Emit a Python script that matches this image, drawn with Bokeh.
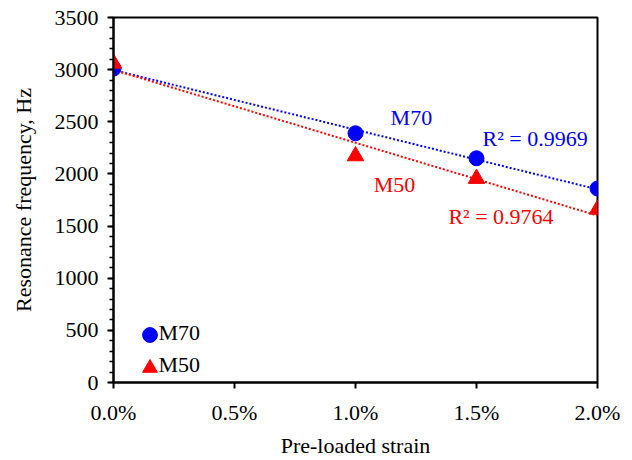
import numpy as np
from bokeh.plotting import figure
from bokeh.models import (Range1d, FixedTicker, NumeralTickFormatter, Legend, LegendItem, Label)
from bokeh.embed import file_html
from bokeh.resources import INLINE

# ---- data ----
strain = [0.0, 0.010, 0.015, 0.020]
m70 = [3010, 2390, 2150, 1860]
m50 = [3060, 2172, 1955, 1660]
series_names = ["M70", "M50"]
r2_labels = ["R² = 0.9969", "R² = 0.9764"]
x_ticks = [0.0, 0.005, 0.010, 0.015, 0.020]
y_ticks = [0, 500, 1000, 1500, 2000, 2500, 3000, 3500]

FONT = "Liberation Serif"
FS = "22px"
BLUE = "#0000FF"
RED = "#FF0000"

p = figure(width=632, height=460, output_backend="svg", toolbar_location=None,
           x_range=Range1d(0, 0.02), y_range=Range1d(0, 3500),
           min_border_left=113, min_border_right=35, min_border_top=17, min_border_bottom=72)
p.grid.visible = False
p.outline_line_color = "black"
p.outline_line_width = 2
p.background_fill_color = "white"
p.border_fill_color = "white"

# axes
p.xaxis.ticker = FixedTicker(ticks=x_ticks)
p.xaxis.formatter = NumeralTickFormatter(format="0.0%")
p.yaxis.ticker = FixedTicker(ticks=y_ticks, minor_ticks=list(range(0, 3501, 100)))
for ax in (p.xaxis[0], p.yaxis[0]):
    ax.axis_line_color = "black"
    ax.axis_line_width = 2
    ax.major_tick_line_color = "black"
    ax.major_tick_line_width = 2
    ax.major_tick_in = 0
    ax.major_tick_out = 6
    ax.major_label_text_font = FONT
    ax.major_label_text_font_size = FS
    ax.major_label_text_color = "black"
    ax.axis_label_text_font = FONT
    ax.axis_label_text_font_size = FS
    ax.axis_label_text_font_style = "normal"
    ax.axis_label_text_color = "black"
p.xaxis.minor_tick_line_color = None
p.yaxis.minor_tick_line_color = "black"
p.yaxis.minor_tick_line_width = 1.5
p.yaxis.minor_tick_in = 0
p.yaxis.minor_tick_out = 4
p.xaxis.major_label_standoff = 11
p.yaxis.major_label_standoff = 9
p.xaxis.axis_label = "Pre-loaded strain"
p.yaxis.axis_label = "Resonance frequency, Hz"
p.xaxis.axis_label_standoff = 5
p.yaxis.axis_label_standoff = 16

# linear trend lines
xs = np.array(strain)
xl = [xs.min(), xs.max()]
for ys, col in ((m70, BLUE), (m50, RED)):
    k, b = np.polyfit(xs, np.array(ys, dtype=float), 1)
    p.line(xl, [k * xl[0] + b, k * xl[1] + b], line_color=col, line_width=2, line_dash="2 2")

r70 = p.scatter(strain, m70, marker="circle", size=15, fill_color=BLUE, line_color=BLUE)
r50 = p.scatter(strain, m50, marker="triangle", size=16.5, fill_color=RED, line_color=RED)

# legend: marker swatches (one legend per entry) + text labels
for rend, loc in ((r70, (17.5, 29.5)), (r50, (17.5, -3.5))):
    lg = Legend(items=[LegendItem(label=" ", renderers=[rend])],
                location=loc, padding=0, margin=0,
                glyph_width=37, glyph_height=37, label_standoff=0, label_width=1,
                label_text_font=FONT, label_text_font_size="1px",
                border_line_color=None, background_fill_alpha=0)
    p.add_layout(lg)
for name, yv in ((series_names[0], 475), (series_names[1], 172)):
    p.add_layout(Label(x=0.00186, y=yv, text=name, text_align="left", text_baseline="middle",
                       text_font=FONT, text_font_size=FS, text_color="black"))

# annotations
p.add_layout(Label(x=0.01231, y=2540, text=series_names[0], text_align="center", text_baseline="middle",
                   text_font=FONT, text_font_size=FS, text_color=BLUE))
p.add_layout(Label(x=0.01525, y=2340, text=r2_labels[0], text_align="left", text_baseline="middle",
                   text_font=FONT, text_font_size=FS, text_color=BLUE))
p.add_layout(Label(x=0.01161, y=1897, text=series_names[1], text_align="center", text_baseline="middle",
                   text_font=FONT, text_font_size=FS, text_color=RED))
p.add_layout(Label(x=0.01384, y=1595, text=r2_labels[1], text_align="left", text_baseline="middle",
                   text_font=FONT, text_font_size=FS, text_color=RED))

open("out.html", "w").write(file_html(p, INLINE))
